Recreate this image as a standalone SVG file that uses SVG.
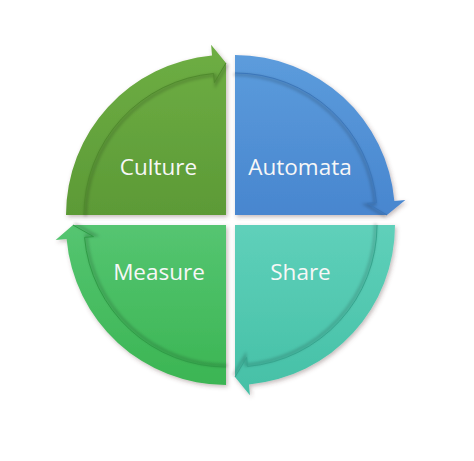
<svg xmlns="http://www.w3.org/2000/svg" width="474" height="461" viewBox="0 0 474 461">
  <style>
    .lbl { font-family: "Open Sans", "Noto Sans", "Liberation Sans", sans-serif; font-size: 22.5px; fill: #f7f7f7; text-anchor: middle; }
    .q { filter: url(#shadow); }
    .edge { fill: none; stroke-width: 1; }
    .edgeBlur { fill: none; stroke-width: 3; stroke: #000; stroke-opacity: 0.18; filter: url(#soft); }
  </style>
  <defs>
    <filter id="shadow" x="-10%" y="-10%" width="125%" height="125%">
      <feDropShadow dx="1.5" dy="2" stdDeviation="2" flood-color="#5a3a3a" flood-opacity="0.35"/>
    </filter>
    <filter id="soft" x="-10%" y="-10%" width="120%" height="120%">
      <feGaussianBlur stdDeviation="1.5"/>
    </filter>
    <linearGradient id="gCulture" x1="0" y1="0" x2="0" y2="1">
      <stop offset="0" stop-color="#6eae44"/>
      <stop offset="1" stop-color="#5c9a36"/>
    </linearGradient>
    <linearGradient id="gAutomata" x1="0" y1="0" x2="0" y2="1">
      <stop offset="0" stop-color="#5c9cdc"/>
      <stop offset="1" stop-color="#4886cf"/>
    </linearGradient>
    <linearGradient id="gMeasure" x1="0" y1="0" x2="0" y2="1">
      <stop offset="0" stop-color="#55c571"/>
      <stop offset="1" stop-color="#3bb553"/>
    </linearGradient>
    <linearGradient id="gShare" x1="0" y1="0" x2="0" y2="1">
      <stop offset="0" stop-color="#5fd0ba"/>
      <stop offset="1" stop-color="#45c0a6"/>
    </linearGradient>
  </defs>

  <g id="culture">
    <path class="q" fill="url(#gCulture)" d="M226,215 L66,215 A160,160 0 0 1 212.05,55.61 L211.1,44.65 L226,63 Z"/>
    <path class="edgeBlur" transform="translate(1.5,1.5)" d="M84,215 A142,142 0 0 1 213.62,73.54 L214.41,82.51 L226,63"/>
    <path class="edge" stroke="#4f8a2c" d="M84,215 A142,142 0 0 1 213.62,73.54 L214.41,82.51 L226,63"/>
    <text class="lbl" x="158.5" y="175">Culture</text>
  </g>

  <g id="automata">
    <path class="q" fill="url(#gAutomata)" d="M235,215 L235,55 A160,160 0 0 1 394.39,201.05 L405.35,200.1 L387,215 Z"/>
    <path class="edgeBlur" transform="translate(-1.5,1.5)" d="M235,73 A142,142 0 0 1 376.46,202.62 L367.49,203.41 L387,215"/>
    <path class="edge" stroke="#3b76ba" d="M235,73 A142,142 0 0 1 376.46,202.62 L367.49,203.41 L387,215"/>
    <text class="lbl" x="300" y="175">Automata</text>
  </g>

  <g id="measure">
    <path class="q" fill="url(#gMeasure)" d="M226,225 L226,385 A160,160 0 0 1 66.61,238.95 L55.65,239.9 L73,225 Z"/>
    <path class="edgeBlur" transform="translate(1.5,-1.5)" d="M226,367 A142,142 0 0 1 84.54,237.38 L93.51,236.59 L73,225"/>
    <path class="edge" stroke="#2f9c46" d="M226,367 A142,142 0 0 1 84.54,237.38 L93.51,236.59 L73,225"/>
    <text class="lbl" x="159" y="280">Measure</text>
  </g>

  <g id="share">
    <path class="q" fill="url(#gShare)" d="M235,225 L395,225 A160,160 0 0 1 248.95,384.39 L249.9,395.35 L235,377 Z"/>
    <path class="edgeBlur" transform="translate(-1.5,-1.5)" d="M377,225 A142,142 0 0 1 247.38,366.46 L246.59,357.49 L235,377"/>
    <path class="edge" stroke="#36a58e" d="M377,225 A142,142 0 0 1 247.38,366.46 L246.59,357.49 L235,377"/>
    <text class="lbl" x="300.5" y="280">Share</text>
  </g>

  <g id="connectors"></g>
</svg>
